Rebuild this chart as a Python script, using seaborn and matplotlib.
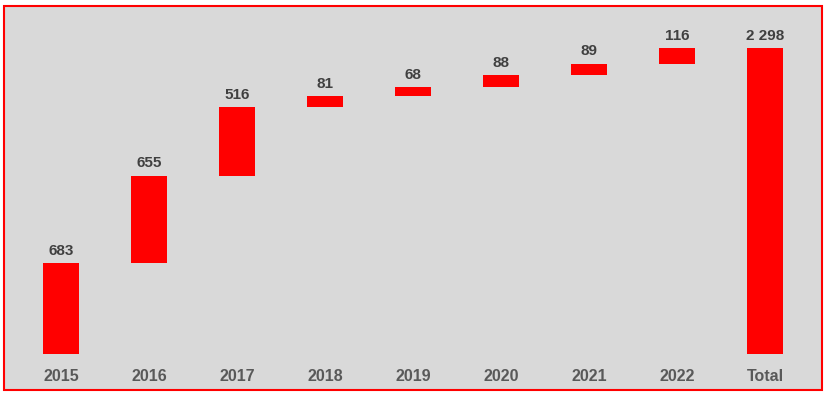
import numpy as np
import pandas as pd
import matplotlib
matplotlib.use('Agg')
import matplotlib.pyplot as plt
from matplotlib.patches import Rectangle
import seaborn as sns

# chart data
years = ['2015', '2016', '2017', '2018', '2019', '2020', '2021', '2022', 'Total']
steps = [683, 655, 516, 81, 68, 88, 89, 116]
total = 2298
labels = ['683', '655', '516', '81', '68', '88', '89', '116', '2 298']

sns.set_theme(style='white')
plt.rcParams['font.family'] = ['Liberation Sans', 'DejaVu Sans']

# waterfall: each step starts where the previous one ended
bases = list(np.concatenate([[0], np.cumsum(steps)[:-1]])) + [0]
heights = steps + [total]
df = pd.DataFrame({'year': years, 'height': heights, 'base': bases})

fig = plt.figure(figsize=(8.27, 3.96), dpi=100)
fig.patch.set_facecolor('white')
# grey panel with red frame (behind the axes)
fig.patches.append(Rectangle((4 / 827, 6 / 396), 818 / 827, 384 / 396,
                             transform=fig.transFigure, facecolor='#D9D9D9',
                             edgecolor='#FF0000', linewidth=1.5, zorder=-5))

ax = fig.add_axes([17 / 827, 42 / 396, 792 / 827, 333 / 396])
ax.set_facecolor('none')
sns.barplot(data=df, x='year', y='height', bottom=df['base'].values,
            color='#FF0000', saturation=1, width=0.4, linewidth=0, ax=ax)

for i, (b, h, lab) in enumerate(zip(bases, heights, labels)):
    ax.text(i, b + h + 40, lab, ha='center', va='bottom',
            fontsize=11, fontweight='bold', color='#404040')

ax.set_xlim(-0.5, 8.5)
ax.set_ylim(0, 2500)
ax.set_xlabel('')
ax.set_ylabel('')
ax.set_yticks([])
sns.despine(ax=ax, left=True, bottom=True)
ax.tick_params(axis='x', length=0, pad=11, labelsize=11.5, labelcolor='#595959')
for t in ax.get_xticklabels():
    t.set_fontweight('bold')

fig.savefig('out.png', dpi=100)
